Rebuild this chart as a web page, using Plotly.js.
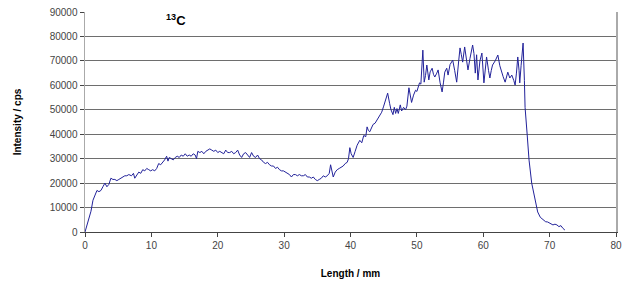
<!DOCTYPE html>
<html>
<head>
<meta charset="utf-8">
<script src="https://cdn.plot.ly/plotly-3.0.1.min.js"></script>
<style>
  html, body { margin: 0; padding: 0; background: #fff; }
  #chart { width: 626px; height: 286px; }
</style>
</head>
<body>
<div id="chart"></div>
<script>
const lengthMm = [
  0,0.3,0.6,0.9,1.2,1.5,1.8,2.1,2.4,2.7,3.0,3.3,3.6,3.9,4.2,4.5,4.8,5.1,5.4,5.7,
  6.0,6.3,6.6,7.0,7.3,7.5,7.8,8.1,8.4,8.7,9.0,9.3,9.6,9.9,10.2,10.5,10.8,11.1,11.4,11.7,
  12.0,12.3,12.5,12.7,13.0,13.3,13.6,13.9,14.2,14.5,14.8,15.1,15.4,15.7,16.0,16.3,16.6,16.8,17.0,17.3,
  17.6,17.9,18.2,18.5,18.8,19.1,19.4,19.7,20.0,20.3,20.6,20.9,21.2,21.5,21.8,22.1,22.4,22.7,23.0,23.3,
  23.6,23.9,24.2,24.5,24.8,25.1,25.4,25.7,26.0,26.3,26.6,26.9,27.2,27.5,27.8,28.1,28.4,28.7,29.0,29.3,
  29.6,29.9,30.2,30.5,30.8,31.1,31.4,31.7,32.0,32.3,32.6,32.9,33.2,33.5,33.8,34.1,34.4,34.7,35.0,35.3,
  35.6,35.9,36.2,36.5,36.8,37.0,37.2,37.4,37.7,38.0,38.3,38.6,38.9,39.2,39.5,39.7,39.9,40.1,40.4,40.7,
  41.0,41.4,41.7,42.0,42.3,42.5,42.7,42.9,43.2,43.4,43.7,44.0,44.3,44.7,45.0,45.3,45.6,45.9,46.1,46.4,
  46.6,46.8,47.0,47.2,47.5,47.7,48.0,48.3,48.5,48.8,49.0,49.2,49.5,49.8,50.0,50.2,50.4,50.6,50.9,51.1,
  51.3,51.5,51.8,52.0,52.3,52.5,52.7,53.0,53.2,53.5,53.8,54.0,54.2,54.5,54.7,55.0,55.4,55.7,56.0,56.3,
  56.5,56.7,56.9,57.2,57.4,57.7,58.0,58.4,58.6,58.8,59.0,59.2,59.5,59.8,60.1,60.3,60.5,60.8,61.0,61.2,
  61.4,61.8,62.2,62.5,62.8,63.0,63.3,63.5,63.7,64.0,64.3,64.6,64.8,65.0,65.2,65.4,65.5,65.7,66.0,66.2,
  66.3,66.6,66.9,67.3,67.8,68.2,68.6,69.0,69.4,69.7,70.1,70.5,70.8,71.1,71.4,71.7,72.0,72.3
];
const intensityCps = [
  0,3000,6500,8500,13000,15000,17000,16500,17000,18500,20000,18500,19500,22000,21500,21500,21000,21500,22000,22500,
  23000,23000,23500,23000,24000,22000,23500,24500,24000,25500,25000,26000,25500,25000,25500,25000,26000,28000,27500,28500,
  29500,31000,29000,30500,30000,29500,30500,31000,30500,31500,31000,32000,31000,31500,31000,32000,31500,30000,33000,32500,
  33000,32000,33000,33500,34000,33500,33000,33500,32500,33000,32500,32000,33500,32500,32500,33000,32000,32500,33500,31500,
  30500,32000,32500,31500,30500,32500,31000,30500,31500,30000,29500,28500,28000,28500,27500,27000,27000,26000,26500,25500,
  25000,25000,24500,24000,23500,22500,23500,23500,23000,23500,23000,23000,23500,22500,22500,22000,22500,21500,21000,21500,
  22000,23000,22500,23000,24000,27500,24000,22500,24500,25500,26000,26500,27000,28000,28500,30000,34500,32000,30500,33000,
  35500,37500,36500,39500,39000,43000,41500,41000,42500,44000,44500,46000,47500,49000,51500,54000,56800,52500,50000,48000,
  51000,48500,50500,48500,52000,49500,51000,50000,51500,59000,55000,53000,56000,58000,57500,59500,61000,60500,74400,61300,
  64000,68300,62200,65500,67000,64500,63400,65000,66300,61000,57300,61000,65400,67000,64200,68500,70300,66000,61300,70000,
  75300,72500,69500,75700,72000,66300,71000,76500,73000,65000,72500,62200,70000,73200,61000,67000,71600,66000,63000,66000,
  68300,70000,72400,68000,65000,63500,61300,64000,65400,63000,64200,62000,60100,65000,71600,66000,61000,68000,77300,62000,
  51000,40500,29400,20000,13100,8200,6000,4900,4200,4100,3500,2900,3200,2900,2200,2600,1500,800
];
const xTickVals = [0,10,20,30,40,50,60,70,80];
const yTickVals = [0,10000,20000,30000,40000,50000,60000,70000,80000,90000];
const seriesLabel = '<sup>13</sup>C';

const trace = {
  x: lengthMm,
  y: intensityCps,
  type: 'scatter',
  mode: 'lines',
  line: { color: '#22229a', width: 1 },
  hoverinfo: 'x+y'
};

const layout = {
  width: 626,
  height: 286,
  margin: { l: 85, r: 10, t: 12, b: 54 },
  paper_bgcolor: '#ffffff',
  plot_bgcolor: '#ffffff',
  showlegend: false,
  font: { family: 'Liberation Sans, Arial, sans-serif', size: 10, color: '#444' },
  xaxis: {
    range: [0, 80],
    tickvals: xTickVals,
    ticktext: xTickVals.map(String),
    showgrid: false,
    zeroline: false,
    showline: true,
    linecolor: '#444',
    linewidth: 1,
    ticks: 'outside',
    ticklen: 4,
    tickcolor: '#444',
    tickfont: { size: 10, color: '#444' },
    title: { text: 'Length / mm', font: { size: 10, color: '#000', family: 'Liberation Sans, Arial, sans-serif', weight: 'bold' }, standoff: 19 }
  },
  yaxis: {
    range: [0, 90000],
    tickvals: yTickVals,
    ticktext: yTickVals.map(String),
    showgrid: true,
    gridcolor: '#6e6e6e',
    gridwidth: 1,
    zeroline: false,
    showline: true,
    mirror: true,
    linecolor: '#aaaaaa',
    linewidth: 1.5,
    ticks: 'outside',
    ticklen: 4,
    tickcolor: '#444',
    tickfont: { size: 10, color: '#444' },
    title: { text: 'Intensity / cps', font: { size: 10, color: '#000', family: 'Liberation Sans, Arial, sans-serif', weight: 'bold' }, standoff: 26 }
  },
  annotations: [{
    text: seriesLabel,
    xref: 'paper', yref: 'paper',
    x: 0.172, y: 0.965,
    xanchor: 'center', yanchor: 'middle',
    showarrow: false,
    font: { size: 13, color: '#000', family: 'Liberation Sans, Arial, sans-serif', weight: 'bold' }
  }]
};

Plotly.newPlot('chart', [trace], layout, { staticPlot: true, displayModeBar: false });
</script>
</body>
</html>
